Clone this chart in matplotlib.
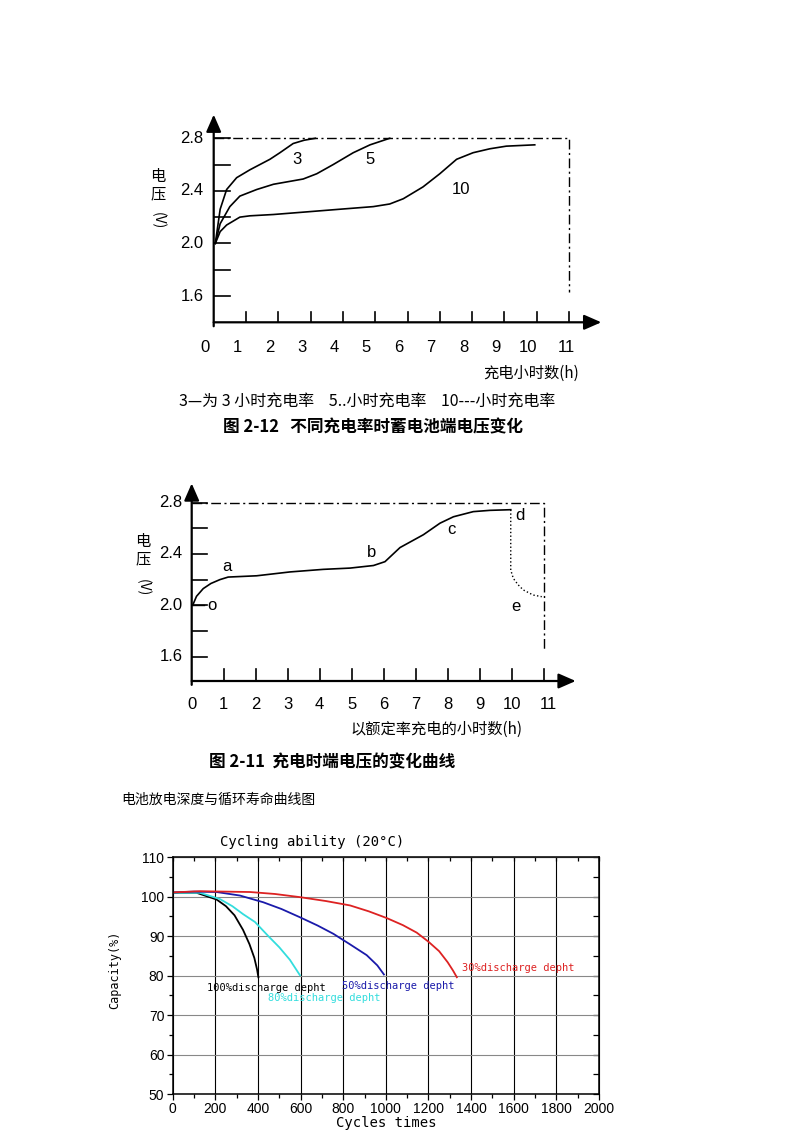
import matplotlib.pyplot as plt
from matplotlib.ticker import MultipleLocator, NullFormatter

plt.rcParams['font.family'] = ['Noto Sans CJK SC', 'DejaVu Sans']

W, H = 800, 1132

# ---- 图 2-12: 不同充电率 (hours, volts)
rate3_h = [0.05, 0.2, 0.4, 0.71, 1.12, 1.74, 2.05, 2.46, 2.8, 3.15]
rate3_v = [2.0, 2.26, 2.41, 2.50, 2.56, 2.64, 2.69, 2.76, 2.785, 2.8]
rate5_h = [0.05, 0.2, 0.5, 0.81, 1.33, 1.85, 2.77, 3.19, 3.7, 4.32, 4.84, 5.45]
rate5_v = [2.0, 2.15, 2.28, 2.36, 2.41, 2.45, 2.49, 2.53, 2.60, 2.69, 2.75, 2.80]
rate10_h = [0.05, 0.2, 0.4, 0.81, 1.12, 1.85, 2.88, 3.9, 4.94, 5.45, 5.87, 6.48,
            7.0, 7.52, 8.03, 8.55, 9.06, 9.94]
rate10_v = [2.0, 2.09, 2.14, 2.2, 2.21, 2.22, 2.24, 2.26, 2.28, 2.30, 2.34, 2.43,
            2.53, 2.64, 2.69, 2.72, 2.74, 2.75]
rate_labels = ['3', '5', '10']
rate_label_pos = [(2.57, 2.64), (4.84, 2.64), (7.67, 2.41)]
hours = list(range(12))

# ---- 图 2-11: 额定率充电
charge_h = [0.03, 0.15, 0.36, 0.6, 0.88, 1.14, 2.03, 3.07, 4.11, 4.95, 5.68, 6.04,
            6.51, 7.24, 7.76, 8.18, 8.8, 9.32, 9.97]
charge_v = [2.0, 2.07, 2.13, 2.17, 2.20, 2.22, 2.23, 2.26, 2.28, 2.29, 2.31, 2.34,
            2.45, 2.55, 2.64, 2.69, 2.73, 2.74, 2.745]
rest_h = [9.97, 9.97, 10.05, 10.2, 10.36, 10.67, 10.94]
rest_v = [2.745, 2.275, 2.21, 2.16, 2.12, 2.08, 2.067]
point_names = ['o', 'a', 'b', 'c', 'd', 'e']
point_pos = [(0.63, 2.0), (1.09, 2.30), (5.63, 2.41), (8.13, 2.59), (10.26, 2.70), (10.13, 1.99)]

# ---- Cycling ability (cycles, capacity %)
dod100_x = [0, 112, 206, 250, 290, 330, 360, 383, 396, 402]
dod100_y = [101, 101, 99.3, 97.6, 95.3, 91.6, 88.0, 84.5, 81.5, 79.6]
dod80_x = [0, 128, 222, 280, 330, 386, 449, 500, 550, 597]
dod80_y = [101, 101, 99.4, 97.6, 95.6, 93.6, 90.0, 87.2, 84.0, 80.1]
dod50_x = [0, 100, 206, 316, 425, 510, 597, 680, 754, 830, 910, 960, 991]
dod50_y = [101.1, 101.3, 101.2, 100.3, 98.6, 96.9, 94.8, 92.7, 90.6, 88.0, 85.2, 82.6, 80.3]
dod30_x = [0, 128, 363, 480, 597, 720, 832, 920, 1004, 1080, 1145, 1200, 1250, 1290, 1315, 1333]
dod30_y = [101.1, 101.4, 101.2, 100.7, 99.9, 98.9, 97.8, 96.3, 94.6, 92.8, 90.9, 88.6, 86.2,
           83.4, 81.3, 79.6]
dod_names = ['100%discharge depht', '80%discharge depht', '50%discharge depht', '30%discharge depht']
dod_colors = ['black', '#33dddd', '#1a1aaa', '#dd2222']
dod_label_pos = [(163, 76.9), (449, 74.3), (793, 77.4), (1356, 81.9)]


def fx(px):
    return px / W


def fy(py):
    return 1 - py / H


def rect(left, top, right, bottom):
    return [fx(left), fy(bottom), (right - left) / W, (bottom - top) / H]


dashdot = (0, (7, 2.5, 1.5, 2.5))
num_font = ['Liberation Sans', 'DejaVu Sans']


def arrow_axes(ax, ymin, ymax, xmax):
    ax.set_xlim(0, xmax)
    ax.set_ylim(ymin, ymax)
    ax.axis('off')
    ap = dict(arrowstyle='-|>,head_length=0.8,head_width=0.35', lw=1.6, color='k',
              shrinkA=0, shrinkB=0, mutation_scale=13)
    ax.annotate('', xy=(0, ymax), xytext=(0, ymin - 0.03), arrowprops=ap, annotation_clip=False)
    ax.annotate('', xy=(xmax, ymin), xytext=(0, ymin), arrowprops=ap, annotation_clip=False)


fig = plt.figure(figsize=(W / 100, H / 100), dpi=100)

# ================= chart 1 =================
ax1 = fig.add_axes(rect(213.7, 114.6, 601.3, 322.3))
arrow_axes(ax1, 1.4, 2.98, 12.0)
for v in [1.6, 1.8, 2.0, 2.2, 2.4, 2.6, 2.8]:
    ax1.plot([0, 0.5], [v, v], color='k', lw=1.2)
for v in [1.6, 2.0, 2.4, 2.8]:
    ax1.text(-0.32, v, f'{v:.1f}', ha='right', va='center', fontsize=12, family=num_font)
for h in hours[1:]:
    ax1.plot([h, h], [1.4, 1.476], color='k', lw=1.2)
for h in hours:
    shift = -0.07 if h == 11 else -0.27
    ax1.text(h + shift, 1.205, str(h), ha='center', va='center', fontsize=12, family=num_font)
ax1.plot([0, 11, 11], [2.8, 2.8, 1.63], color='k', lw=1, ls=dashdot)
ax1.plot(rate3_h, rate3_v, color='k', lw=1.2)
ax1.plot(rate5_h, rate5_v, color='k', lw=1.2)
ax1.plot(rate10_h, rate10_v, color='k', lw=1.2)
for lab, (x, y) in zip(rate_labels, rate_label_pos):
    ax1.text(x, y, lab, ha='center', va='center', fontsize=12, family=num_font)

fig.text(fx(158), fy(185), '电\n压', ha='center', va='center', fontsize=11, linespacing=1.0)
fig.text(fx(158), fy(221), '(V)', ha='center', va='center', fontsize=10, rotation=270)
fig.text(fx(531), fy(373), '充电小时数(h)', ha='center', va='center', fontsize=11)
fig.text(fx(367), fy(402), '3—为 3 小时充电率    5..小时充电率    10---小时充电率',
         ha='center', va='center', fontsize=11.5)
fig.text(fx(373), fy(427), '图 2-12   不同充电率时蓄电池端电压变化', ha='center', va='center',
         fontsize=12, fontweight='bold')

# ================= chart 2 =================
ax2 = fig.add_axes(rect(191.7, 483.4, 575.7, 681.0))
arrow_axes(ax2, 1.41, 2.95, 12.0)
for v in [1.6, 1.8, 2.0, 2.2, 2.4, 2.6, 2.8]:
    ax2.plot([0, 0.47], [v, v], color='k', lw=1.2)
for v in [1.6, 2.0, 2.4, 2.8]:
    ax2.text(-0.28, v, f'{v:.1f}', ha='right', va='center', fontsize=12, family=num_font)
for h in hours[1:]:
    ax2.plot([h, h], [1.41, 1.5], color='k', lw=1.2)
for h in hours:
    shift = 0.15 if h == 11 else 0.0
    ax2.text(h + shift, 1.223, str(h), ha='center', va='center', fontsize=12, family=num_font)
ax2.plot([0, 11, 11], [2.8, 2.8, 1.64], color='k', lw=1, ls=dashdot)
ax2.plot(charge_h, charge_v, color='k', lw=1.2)
ax2.plot(rest_h, rest_v, color='k', lw=1, ls=':')
for lab, (x, y) in zip(point_names, point_pos):
    ax2.text(x, y, lab, ha='center', va='center', fontsize=12, family=num_font)
ax2.plot([0.05, 0.38], [2.0, 2.0], color='k', lw=1)

fig.text(fx(143), fy(550), '电\n压', ha='center', va='center', fontsize=11, linespacing=1.0)
fig.text(fx(143), fy(588), '(V)', ha='center', va='center', fontsize=10, rotation=270)
fig.text(fx(437), fy(729), '以额定率充电的小时数(h)', ha='center', va='center', fontsize=11)
fig.text(fx(332), fy(762), '图 2-11  充电时端电压的变化曲线', ha='center', va='center',
         fontsize=12, fontweight='bold')

# ================= chart 3 =================
fig.text(fx(121.5), fy(800), '电池放电深度与循环寿命曲线图', ha='left', va='center', fontsize=10)

mono = ['DejaVu Sans Mono']
ax3 = fig.add_axes(rect(172.7, 857.3, 599.0, 1094.0))
ax3.set_xlim(0, 2000)
ax3.set_ylim(50, 110)
ax3.xaxis.set_major_locator(MultipleLocator(200))
ax3.xaxis.set_minor_locator(MultipleLocator(100))
ax3.yaxis.set_major_locator(MultipleLocator(10))
ax3.yaxis.set_minor_locator(MultipleLocator(5))
ax3.tick_params(which='both', direction='out', labelsize=10, width=0.9, pad=2)
ax3.tick_params(which='major', length=4)
ax3.tick_params(which='minor', length=3)
ax3.grid(axis='x', which='major', color='k', lw=0.8)
ax3.grid(axis='y', which='major', color='#888888', lw=0.8)
for t in ax3.get_xticklabels() + ax3.get_yticklabels():
    t.set_family(num_font)
for s in ax3.spines.values():
    s.set_linewidth(1.1)

top = ax3.secondary_xaxis('top')
top.xaxis.set_major_locator(MultipleLocator(200))
top.xaxis.set_minor_locator(MultipleLocator(100))
top.xaxis.set_major_formatter(NullFormatter())
top.tick_params(which='both', direction='in', length=3, width=0.9)
right = ax3.secondary_yaxis('right')
right.yaxis.set_major_locator(MultipleLocator(10))
right.yaxis.set_minor_locator(MultipleLocator(5))
right.yaxis.set_major_formatter(NullFormatter())
right.tick_params(which='both', direction='in', length=4, width=0.9)

series = [(dod100_x, dod100_y), (dod80_x, dod80_y), (dod50_x, dod50_y), (dod30_x, dod30_y)]
for (xs, ys), c in zip(series, dod_colors):
    ax3.plot(xs, ys, color=c, lw=1.3)
for name, c, (x, y) in zip(dod_names, dod_colors, dod_label_pos):
    ax3.text(x, y, name, color=c, ha='left', va='center', fontsize=7.5, family=mono)

fig.text(fx(386), fy(1123), 'Cycles times', ha='center', va='center', fontsize=10, family=mono)
fig.text(fx(115), fy(970), 'Capacity(%)', ha='center', va='center', fontsize=8.5,
         family=mono, rotation=90)
fig.text(fx(311.7), fy(841.7), 'Cycling ability (20°C)', ha='center', va='center',
         fontsize=10, family=mono)

fig.savefig('out.png', dpi=100)
